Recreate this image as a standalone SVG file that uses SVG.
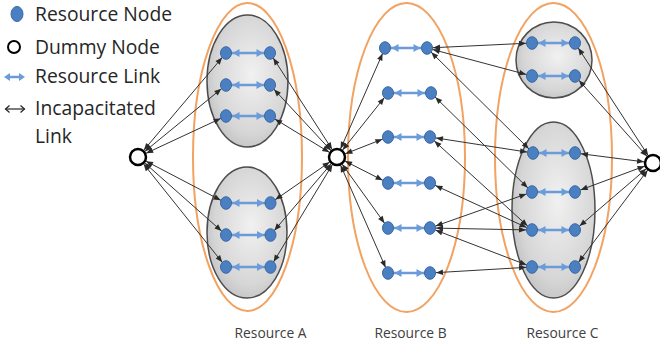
<svg xmlns="http://www.w3.org/2000/svg" width="660" height="345" viewBox="0 0 660 345">
<style>
.rn{fill:#4a7fc1;stroke:#3b69a4;stroke-width:1}
.dn{fill:#fff;stroke:#000;stroke-width:2.5}
.or{fill:none;stroke:#f2a261;stroke-width:2}
.gr{fill:url(#gg);stroke:#4d4d4d;stroke-width:1.5}
.cn{stroke:#333;stroke-width:1;fill:none;marker-start:url(#bn);marker-end:url(#bn)}
.cd{stroke:#333;stroke-width:1;fill:none;marker-start:url(#bd);marker-end:url(#bn)}
.bl{stroke:#6b9bd9;stroke-width:2.5;fill:none;marker-start:url(#blu);marker-end:url(#blu)}
.lg{font-family:"Open Sans","Liberation Sans",sans-serif;font-size:19.3px;fill:#262626}
.cap{font-family:"Open Sans","Liberation Sans",sans-serif;font-size:13.8px;fill:#404040;text-anchor:middle}
</style>
<defs>
<radialGradient id="gg" cx="0.55" cy="0.45" r="0.6">
<stop offset="0" stop-color="#f1f1f1"/>
<stop offset="0.75" stop-color="#d6d6d6"/>
<stop offset="1" stop-color="#c2c2c2"/>
</radialGradient>
<marker id="bn" markerUnits="userSpaceOnUse" markerWidth="20" markerHeight="20" refX="13" refY="0" orient="auto-start-reverse" style="overflow:visible"><path d="M0,-2.8 L7,0 L0,2.8 z" fill="#2a2a2a"/></marker>
<marker id="bd" markerUnits="userSpaceOnUse" markerWidth="20" markerHeight="20" refX="16" refY="0" orient="auto-start-reverse" style="overflow:visible"><path d="M0,-2.8 L7,0 L0,2.8 z" fill="#2a2a2a"/></marker>
<marker id="blu" markerUnits="userSpaceOnUse" markerWidth="20" markerHeight="20" refX="13.5" refY="0" orient="auto-start-reverse" style="overflow:visible"><path d="M0,-4 L7,0 L0,4 z" fill="#6b9bd9"/></marker>
</defs>

<g id="legend">
<ellipse class="rn" cx="17" cy="14" rx="6" ry="7.5"/>
<text class="lg" x="35" y="21">Resource Node</text>
<circle cx="14" cy="47" r="6" fill="#fff" stroke="#000" stroke-width="2"/>
<text class="lg" x="35" y="54">Dummy Node</text>
<line x1="8" y1="77" x2="21" y2="77" stroke="#6b9bd9" stroke-width="2.5"/>
<polygon points="4,77 10,73 10,81" fill="#6b9bd9"/>
<polygon points="25,77 19,73 19,81" fill="#6b9bd9"/>
<text class="lg" x="35" y="83">Resource Link</text>
<line x1="5.5" y1="109" x2="24.5" y2="109" stroke="#222" stroke-width="1.2"/>
<path d="M9.5,105.5 L5.5,109 L9.5,112.5 M20.5,105.5 L24.5,109 L20.5,112.5" fill="none" stroke="#222" stroke-width="1.2"/>
<text class="lg" x="35" y="115">Incapacitated</text>
<text class="lg" x="35" y="143">Link</text>
</g>

<g id="resource-a">
<ellipse class="or" cx="247.5" cy="157" rx="54.5" ry="154"/>
<ellipse class="gr" cx="247.5" cy="81" rx="40.5" ry="66"/>
<ellipse class="gr" cx="247" cy="232.5" rx="40" ry="65.5"/>
<text class="cap" x="270.5" y="338">Resource A</text>
</g>
<g id="resource-b">
<ellipse class="or" cx="406.5" cy="157.5" rx="58.5" ry="154.5"/>
<text class="cap" x="410.5" y="338">Resource B</text>
</g>
<g id="resource-c">
<ellipse class="or" cx="553.5" cy="157.5" rx="58.5" ry="154.5"/>
<circle class="gr" cx="554" cy="60" r="38"/>
<ellipse class="gr" cx="553.5" cy="210" rx="41.5" ry="88"/>
<text class="cap" x="562.5" y="338">Resource C</text>
</g>

<g id="connectors">
<line class="cd" x1="138" y1="157" x2="226" y2="53"/>
<line class="cd" x1="138" y1="157" x2="226" y2="85"/>
<line class="cd" x1="138" y1="157" x2="226" y2="116"/>
<line class="cd" x1="138" y1="157" x2="226" y2="203"/>
<line class="cd" x1="138" y1="157" x2="226" y2="235"/>
<line class="cd" x1="138" y1="157" x2="226" y2="267"/>
<line class="cd" x1="337" y1="157" x2="270" y2="53"/>
<line class="cd" x1="337" y1="157" x2="270" y2="85"/>
<line class="cd" x1="337" y1="157" x2="270" y2="116"/>
<line class="cd" x1="337" y1="157" x2="270.5" y2="203"/>
<line class="cd" x1="337" y1="157" x2="270.5" y2="235"/>
<line class="cd" x1="337" y1="157" x2="270.5" y2="267"/>
<line class="cd" x1="337" y1="157" x2="385" y2="48"/>
<line class="cd" x1="337" y1="157" x2="388" y2="93"/>
<line class="cd" x1="337" y1="157" x2="388" y2="137"/>
<line class="cd" x1="337" y1="157" x2="388" y2="183"/>
<line class="cd" x1="337" y1="157" x2="388" y2="228"/>
<line class="cd" x1="337" y1="157" x2="388" y2="273"/>
<line class="cn" x1="427" y1="48" x2="532" y2="43"/>
<line class="cn" x1="427" y1="48" x2="532" y2="76"/>
<line class="cn" x1="427" y1="48" x2="533" y2="153"/>
<line class="cn" x1="431" y1="93" x2="532" y2="192"/>
<line class="cn" x1="430" y1="137" x2="533" y2="153"/>
<line class="cn" x1="430" y1="137" x2="532" y2="230"/>
<line class="cn" x1="430" y1="183" x2="532" y2="230"/>
<line class="cn" x1="430" y1="228" x2="532" y2="192"/>
<line class="cn" x1="430" y1="228" x2="532" y2="230"/>
<line class="cn" x1="430" y1="228" x2="532" y2="267"/>
<line class="cn" x1="430" y1="273" x2="532" y2="267"/>
<line class="cd" x1="653" y1="163" x2="575" y2="43"/>
<line class="cd" x1="653" y1="163" x2="575" y2="76"/>
<line class="cd" x1="653" y1="163" x2="575" y2="153"/>
<line class="cd" x1="653" y1="163" x2="575" y2="192"/>
<line class="cd" x1="653" y1="163" x2="575" y2="230"/>
<line class="cd" x1="653" y1="163" x2="575" y2="267"/>
<line class="bl" x1="226" y1="53" x2="270" y2="53"/>
<line class="bl" x1="226" y1="85" x2="270" y2="85"/>
<line class="bl" x1="226" y1="116" x2="270" y2="116"/>
<line class="bl" x1="226" y1="203" x2="270.5" y2="203"/>
<line class="bl" x1="226" y1="235" x2="270.5" y2="235"/>
<line class="bl" x1="226" y1="267" x2="270.5" y2="267"/>
<line class="bl" x1="385" y1="48" x2="427" y2="48"/>
<line class="bl" x1="388" y1="93" x2="431" y2="93"/>
<line class="bl" x1="388" y1="137" x2="430" y2="137"/>
<line class="bl" x1="388" y1="183" x2="430" y2="183"/>
<line class="bl" x1="388" y1="228" x2="430" y2="228"/>
<line class="bl" x1="388" y1="273" x2="430" y2="273"/>
<line class="bl" x1="532" y1="43" x2="575" y2="43"/>
<line class="bl" x1="532" y1="76" x2="575" y2="76"/>
<line class="bl" x1="533" y1="153" x2="575" y2="153"/>
<line class="bl" x1="532" y1="192" x2="575" y2="192"/>
<line class="bl" x1="532" y1="230" x2="575" y2="230"/>
<line class="bl" x1="532" y1="267" x2="575" y2="267"/>
</g>

<g id="dummy-left"><circle class="dn" cx="138" cy="157" r="8"/></g>
<g id="dummy-mid"><circle class="dn" cx="337" cy="157" r="8"/></g>
<g id="dummy-right"><circle class="dn" cx="653" cy="163" r="8"/></g>

<g id="a1l"><ellipse class="rn" cx="226" cy="53" rx="5.5" ry="6.3"/></g>
<g id="a1r"><ellipse class="rn" cx="270" cy="53" rx="5.5" ry="6.3"/></g>
<g id="a2l"><ellipse class="rn" cx="226" cy="85" rx="5.5" ry="6.3"/></g>
<g id="a2r"><ellipse class="rn" cx="270" cy="85" rx="5.5" ry="6.3"/></g>
<g id="a3l"><ellipse class="rn" cx="226" cy="116" rx="5.5" ry="6.3"/></g>
<g id="a3r"><ellipse class="rn" cx="270" cy="116" rx="5.5" ry="6.3"/></g>
<g id="a4l"><ellipse class="rn" cx="226" cy="203" rx="5.5" ry="6.3"/></g>
<g id="a4r"><ellipse class="rn" cx="270.5" cy="203" rx="5.5" ry="6.3"/></g>
<g id="a5l"><ellipse class="rn" cx="226" cy="235" rx="5.5" ry="6.3"/></g>
<g id="a5r"><ellipse class="rn" cx="270.5" cy="235" rx="5.5" ry="6.3"/></g>
<g id="a6l"><ellipse class="rn" cx="226" cy="267" rx="5.5" ry="6.3"/></g>
<g id="a6r"><ellipse class="rn" cx="270.5" cy="267" rx="5.5" ry="6.3"/></g>

<g id="b1l"><ellipse class="rn" cx="385" cy="48" rx="5.5" ry="6.3"/></g>
<g id="b1r"><ellipse class="rn" cx="427" cy="48" rx="5.5" ry="6.3"/></g>
<g id="b2l"><ellipse class="rn" cx="388" cy="93" rx="5.5" ry="6.3"/></g>
<g id="b2r"><ellipse class="rn" cx="431" cy="93" rx="5.5" ry="6.3"/></g>
<g id="b3l"><ellipse class="rn" cx="388" cy="137" rx="5.5" ry="6.3"/></g>
<g id="b3r"><ellipse class="rn" cx="430" cy="137" rx="5.5" ry="6.3"/></g>
<g id="b4l"><ellipse class="rn" cx="388" cy="183" rx="5.5" ry="6.3"/></g>
<g id="b4r"><ellipse class="rn" cx="430" cy="183" rx="5.5" ry="6.3"/></g>
<g id="b5l"><ellipse class="rn" cx="388" cy="228" rx="5.5" ry="6.3"/></g>
<g id="b5r"><ellipse class="rn" cx="430" cy="228" rx="5.5" ry="6.3"/></g>
<g id="b6l"><ellipse class="rn" cx="388" cy="273" rx="5.5" ry="6.3"/></g>
<g id="b6r"><ellipse class="rn" cx="430" cy="273" rx="5.5" ry="6.3"/></g>

<g id="c1l"><ellipse class="rn" cx="532" cy="43" rx="5.5" ry="6.3"/></g>
<g id="c1r"><ellipse class="rn" cx="575" cy="43" rx="5.5" ry="6.3"/></g>
<g id="c2l"><ellipse class="rn" cx="532" cy="76" rx="5.5" ry="6.3"/></g>
<g id="c2r"><ellipse class="rn" cx="575" cy="76" rx="5.5" ry="6.3"/></g>
<g id="c3l"><ellipse class="rn" cx="533" cy="153" rx="5.5" ry="6.3"/></g>
<g id="c3r"><ellipse class="rn" cx="575" cy="153" rx="5.5" ry="6.3"/></g>
<g id="c4l"><ellipse class="rn" cx="532" cy="192" rx="5.5" ry="6.3"/></g>
<g id="c4r"><ellipse class="rn" cx="575" cy="192" rx="5.5" ry="6.3"/></g>
<g id="c5l"><ellipse class="rn" cx="532" cy="230" rx="5.5" ry="6.3"/></g>
<g id="c5r"><ellipse class="rn" cx="575" cy="230" rx="5.5" ry="6.3"/></g>
<g id="c6l"><ellipse class="rn" cx="532" cy="267" rx="5.5" ry="6.3"/></g>
<g id="c6r"><ellipse class="rn" cx="575" cy="267" rx="5.5" ry="6.3"/></g>
</svg>
